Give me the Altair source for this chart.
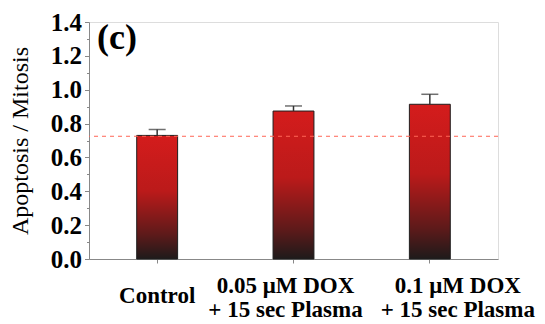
import altair as alt
import pandas as pd

groups = ["Control", "0.05 μM DOX|+ 15 sec Plasma", "0.1 μM DOX|+ 15 sec Plasma"]
means = [0.73, 0.874, 0.914]
errors = [0.035, 0.030, 0.059]
reference_level = [0.725]
y_ticks = [0.0, 0.1, 0.2, 0.3, 0.4, 0.5, 0.6, 0.7, 0.8, 0.9, 1.0, 1.1, 1.2, 1.3, 1.4]
panel_label = ["(c)"]

df = pd.DataFrame({
    "group": groups,
    "mean": means,
    "upper": [m + e for m, e in zip(means, errors)],
})
ref_df = pd.DataFrame({"level": reference_level})
lab_df = pd.DataFrame({"label": panel_label})

FONT = "Liberation Serif"

y_axis = alt.Axis(
    title="Apoptosis / Mitosis",
    values=y_ticks,
    labelExpr="round(datum.value*10) % 2 == 0 ? format(datum.value, '.1f') : ''",
    tickSize={"condition": {"test": "round(datum.value*10) % 2 == 0", "value": 4.5}, "value": 2.5},
    labelFont=FONT, labelFontSize=25, labelFontWeight="bold", labelColor="black",
    labelPadding=3,
    titleFont=FONT, titleFontSize=24, titleFontWeight="normal", titleColor="black",
    titlePadding=18,
    domainColor="#888888", tickColor="#888888", grid=False,
)
y_scale = alt.Scale(domain=[0, 1.4], nice=False, zero=True)

x_enc = alt.X(
    "group:N", sort=groups,
    scale=alt.Scale(paddingInner=0.7, paddingOuter=0.35),
    axis=alt.Axis(
        title=None, labelAngle=0,
        labelExpr="split(datum.label, '|')",
        labelFont=FONT, labelFontSize=23, labelFontWeight="bold", labelColor="black",
        labelBaseline="alphabetic", labelLineHeight=24,
        labelPadding={"condition": {"test": "datum.value == 'Control'", "value": 39}, "value": 29},
        labelOffset={"condition": [
            {"test": "indexof(datum.value, '0.1 ') == 0", "value": 28},
            {"test": "indexof(datum.value, '0.05 ') == 0", "value": -8},
        ], "value": 0},
        tickSize=4, domainColor="#888888", tickColor="#888888",
    ),
)

bars = alt.Chart(df).mark_bar(
    color=alt.Gradient(
        gradient="linear", x1=0, x2=0, y1=0, y2=1,
        stops=[
            alt.GradientStop(offset=0, color="#d41c1c"),
            alt.GradientStop(offset=0.45, color="#bb1a1a"),
            alt.GradientStop(offset=0.8, color="#5e1a1a"),
            alt.GradientStop(offset=1, color="#1e1a1a"),
        ],
    ),
    stroke="#1e1e1e", strokeWidth=1,
).encode(
    x=x_enc,
    y=alt.Y("mean:Q", scale=y_scale, axis=y_axis),
)

err = alt.Chart(df).mark_rule(color="#333333", strokeWidth=1.5).encode(
    x=x_enc,
    y=alt.Y("mean:Q", scale=y_scale, axis=y_axis),
    y2="upper:Q",
)

caps = alt.Chart(df).mark_tick(color="#333333", thickness=1.5, size=17).encode(
    x=x_enc,
    y=alt.Y("upper:Q", scale=y_scale, axis=y_axis),
)

ref = alt.Chart(ref_df).mark_rule(color="#ff6656", strokeDash=[4, 4], strokeWidth=1).encode(
    y=alt.Y("level:Q", scale=y_scale, axis=y_axis),
)

panel = alt.Chart(lab_df).mark_text(
    font=FONT, fontSize=36, fontWeight="bold", color="black",
    align="left", baseline="alphabetic",
).encode(text="label:N", x=alt.value(8), y=alt.value(27))

chart = alt.layer(bars, err, caps, ref, panel).properties(
    width=409, height=237,
    autosize=alt.AutoSizeParams(type="none"),
    padding={"left": 89, "top": 22, "right": 47, "bottom": 65},
).configure_view(stroke=None).configure(background="white")

chart.save("out.html", embed_options={"renderer": "svg", "actions": False})
